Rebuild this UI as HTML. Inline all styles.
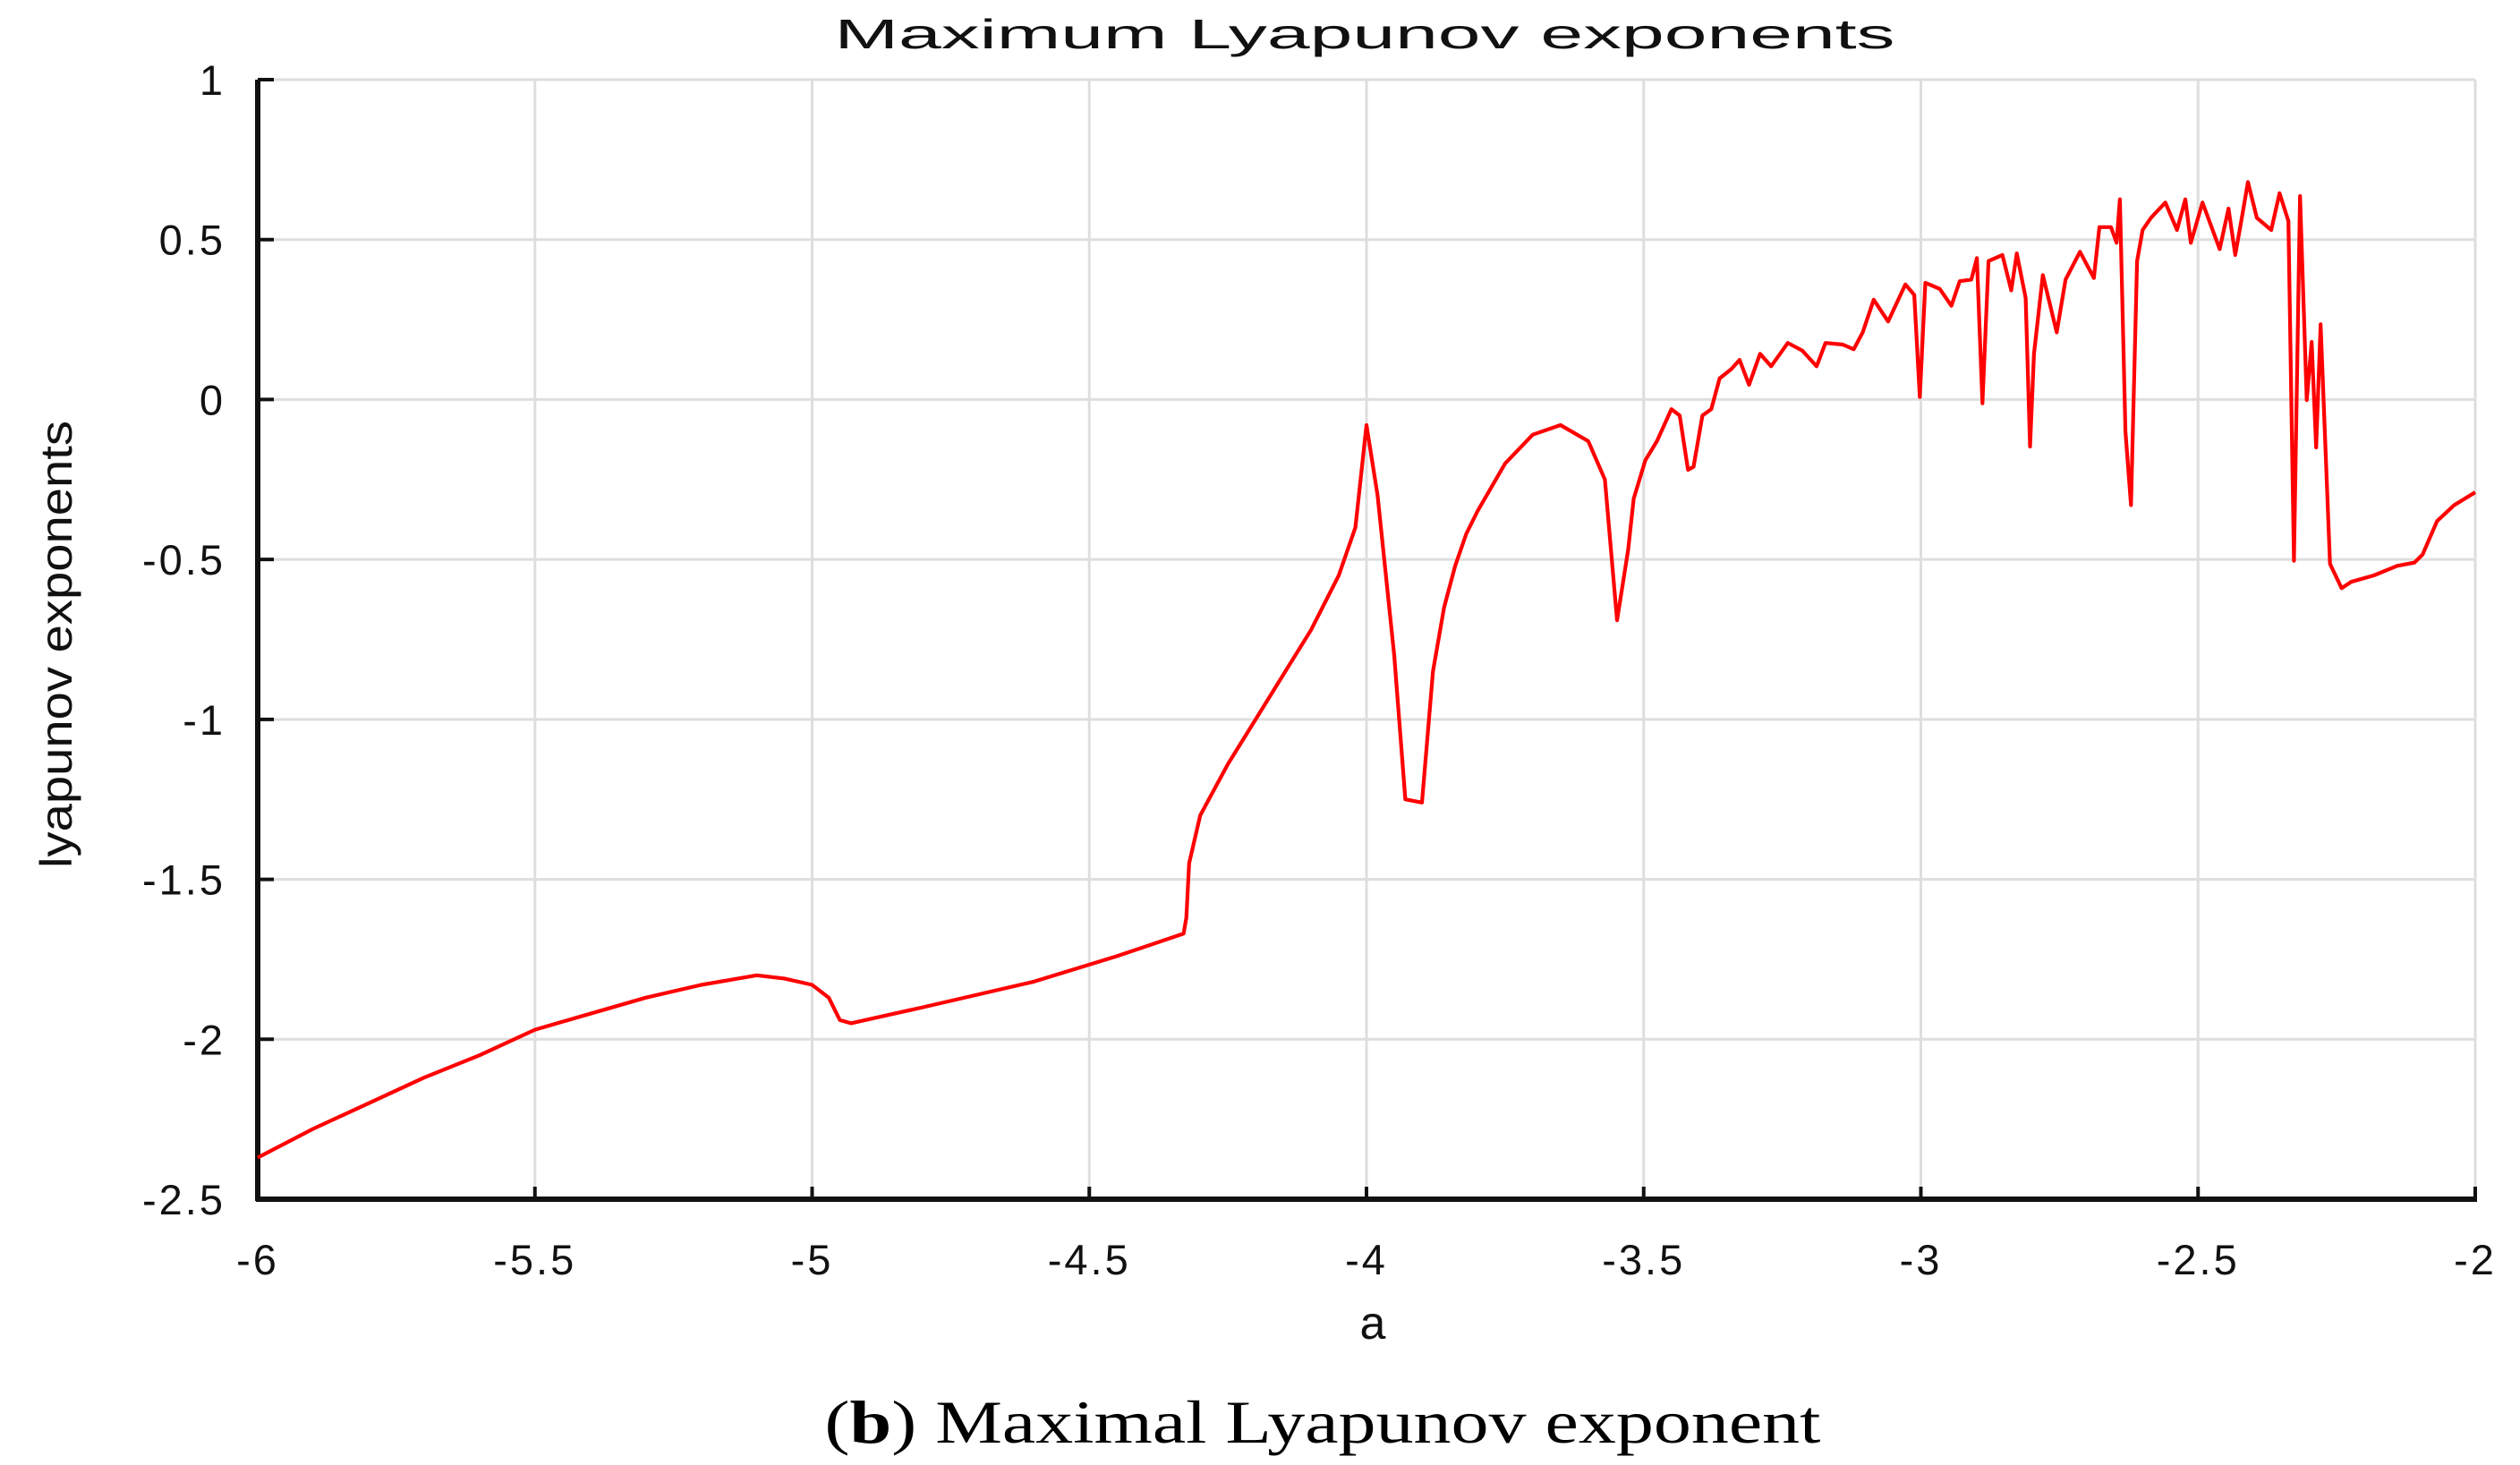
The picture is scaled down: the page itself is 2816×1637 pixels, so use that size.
<!DOCTYPE html>
<html><head><meta charset="utf-8"><style>
html,body{margin:0;padding:0;background:#fff;}
svg{display:block;}
</style></head><body>
<svg id="chart" width="2816" height="1637" viewBox="0 0 2816 1637" xmlns="http://www.w3.org/2000/svg">
<rect width="2816" height="1637" fill="#fff"/>
<text x="1525" y="54" text-anchor="middle" font-family="Liberation Sans, sans-serif" font-size="46" textLength="1185" lengthAdjust="spacingAndGlyphs" fill="#111">Maximum Lyapunov exponents</text>
<g id="grid"></g>
<g id="axes"></g>
<g id="series"></g>
<text transform="translate(80,720) rotate(-90)" text-anchor="middle" font-family="Liberation Sans, sans-serif" font-size="50" textLength="500" lengthAdjust="spacingAndGlyphs" fill="#111">lyapunov exponents</text>
<text x="1534" y="1496" text-anchor="middle" font-family="Liberation Sans, sans-serif" font-size="52" fill="#111">a</text>
<text x="1478" y="1612" text-anchor="middle" font-family="Liberation Serif, serif" font-size="68" textLength="1113" lengthAdjust="spacingAndGlyphs" fill="#000">(<tspan font-weight="bold">b</tspan>) Maximal Lyapunov exponent</text>
</svg>
<script>
const xTicks = [-6, -5.5, -5, -4.5, -4, -3.5, -3, -2.5, -2];
const yTicks = [1, 0.5, 0, -0.5, -1, -1.5, -2, -2.5];
const xTickLabels = ["-6","-5.5","-5","-4.5","-4","-3.5","-3","-2.5","-2"];
const yTickLabels = ["1","0.5","0","-0.5","-1","-1.5","-2","-2.5"];
const aValues = [-6,-5.9,-5.8,-5.7,-5.6,-5.5,-5.45,-5.4,-5.3,-5.2,-5.15,-5.1,-5.05,-5.0,-4.97,-4.95,-4.93,-4.8,-4.6,-4.45,-4.33,-4.325,-4.32,-4.3,-4.25,-4.2,-4.15,-4.1,-4.05,-4.02,-4.0,-3.98,-3.95,-3.93,-3.9,-3.88,-3.86,-3.84,-3.82,-3.8,-3.75,-3.7,-3.65,-3.6,-3.57,-3.548,-3.528,-3.518,-3.497,-3.476,-3.45,-3.435,-3.42,-3.41,-3.394,-3.378,-3.363,-3.342,-3.327,-3.31,-3.29,-3.27,-3.24,-3.214,-3.188,-3.172,-3.141,-3.121,-3.105,-3.085,-3.059,-3.028,-3.012,-3.002,-2.992,-2.966,-2.945,-2.93,-2.909,-2.899,-2.889,-2.878,-2.853,-2.837,-2.827,-2.811,-2.803,-2.796,-2.78,-2.755,-2.739,-2.713,-2.688,-2.678,-2.657,-2.647,-2.641,-2.631,-2.621,-2.61,-2.6,-2.585,-2.559,-2.538,-2.523,-2.513,-2.492,-2.461,-2.445,-2.433,-2.42,-2.41,-2.394,-2.368,-2.353,-2.337,-2.327,-2.316,-2.304,-2.295,-2.287,-2.279,-2.262,-2.241,-2.224,-2.183,-2.141,-2.11,-2.095,-2.069,-2.038,-2.0];
const lyapValues = [-2.37,-2.28,-2.2,-2.12,-2.05,-1.97,-1.945,-1.92,-1.87,-1.83,-1.815,-1.8,-1.81,-1.83,-1.87,-1.94,-1.95,-1.9,-1.82,-1.74,-1.67,-1.62,-1.45,-1.3,-1.14,-1.0,-0.86,-0.72,-0.55,-0.4,-0.08,-0.3,-0.8,-1.25,-1.26,-0.85,-0.65,-0.52,-0.42,-0.35,-0.2,-0.11,-0.08,-0.13,-0.25,-0.69,-0.47,-0.31,-0.19,-0.13,-0.03,-0.05,-0.22,-0.21,-0.05,-0.03,0.066,0.095,0.124,0.046,0.143,0.104,0.177,0.153,0.104,0.177,0.172,0.157,0.21,0.312,0.244,0.36,0.327,0.008,0.365,0.346,0.293,0.37,0.375,0.442,-0.012,0.433,0.452,0.341,0.457,0.317,-0.147,0.143,0.389,0.21,0.375,0.462,0.38,0.539,0.539,0.49,0.626,-0.1,-0.33,0.433,0.53,0.568,0.616,0.53,0.626,0.49,0.616,0.47,0.597,0.452,0.578,0.68,0.568,0.53,0.645,0.558,-0.504,0.636,-0.002,0.18,-0.15,0.235,-0.514,-0.59,-0.57,-0.55,-0.52,-0.51,-0.485,-0.38,-0.33,-0.29];

const L=288,R=2766,T=89,B=1340;
const xScale = v => L + (v + 6) / 4 * (R - L);
const yScale = v => T + (1 - v) / 3.5 * (B - T);
const NS="http://www.w3.org/2000/svg";
function mk(tag, attrs, parent){const e=document.createElementNS(NS,tag);for(const k in attrs)e.setAttribute(k,attrs[k]);parent.appendChild(e);return e;}
const grid=document.getElementById('grid'), axes=document.getElementById('axes'), series=document.getElementById('series');
xTicks.forEach((t,i)=>{
  const x=xScale(t);
  const g=mk('line',{x1:x,x2:x,y1:T,y2:B,stroke:'#dedede','stroke-width':3},grid);
  
  
  const tk=mk('line',{x1:x,x2:x,y1:B,y2:B-14,stroke:'#111','stroke-width':4},axes);
  
  
  const tx=mk('text',{x:x,y:1424,'text-anchor':'middle','font-family':'Liberation Sans, sans-serif','font-size':47,'letter-spacing':3,fill:'#111'},axes);
  tx.textContent=xTickLabels[i];
  
  
});
yTicks.forEach((t,i)=>{
  const y=yScale(t);
  const g=mk('line',{x1:L,x2:R,y1:y,y2:y,stroke:'#dedede','stroke-width':3},grid);
  
  
  const tk=mk('line',{x1:L,x2:L+18,y1:y,y2:y,stroke:'#111','stroke-width':4},axes);
  
  
  const tx=mk('text',{x:252,y:y+17,'text-anchor':'end','font-family':'Liberation Sans, sans-serif','font-size':47,'letter-spacing':3,fill:'#111'},axes);
  tx.textContent=yTickLabels[i];
  
  
});
const ax1=mk('line',{x1:L,x2:L,y1:T,y2:B+2,stroke:'#111','stroke-width':6},axes);


const ax2=mk('line',{x1:L-2,x2:R+2,y1:B,y2:B,stroke:'#111','stroke-width':6},axes);


const d=aValues.map((a,i)=>(i?'L':'M')+xScale(a).toFixed(1)+','+yScale(lyapValues[i]).toFixed(1)).join(' ');
const p=mk('path',{d:d,fill:'none',stroke:'#f00','stroke-width':4.2,'stroke-linejoin':'round'},series);


</script>
</body></html>
